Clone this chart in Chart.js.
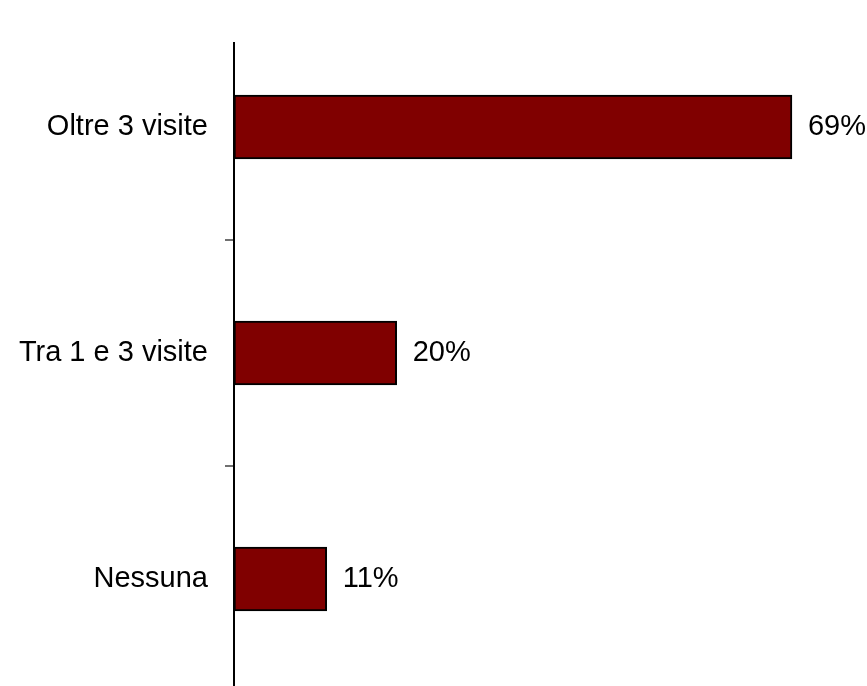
<!DOCTYPE html>
<html>
<head>
<meta charset="utf-8">
<script src="https://cdn.jsdelivr.net/npm/chart.js@4.4.0/dist/chart.umd.min.js"></script>
<style>
  html, body { margin: 0; padding: 0; background: #fff; overflow: hidden; }
  #wrap { width: 867px; height: 686px; overflow: hidden; }
</style>
</head>
<body>
<div id="wrap"><canvas id="VisiteChart" width="867" height="692"></canvas></div>
<script>
const categories = ['Oltre 3 visite', 'Tra 1 e 3 visite', 'Nessuna'];
const percentages = [68.6, 20.0, 11.4];
const valueLabels = ['69%', '20%', '11%'];

// draws the vertical axis line (it starts a bit below the top) and the value labels
const extrasPlugin = {
  id: 'extras',
  afterDatasetsDraw(chart) {
    const ctx = chart.ctx;
    const area = chart.chartArea;
    const xs = chart.scales.x;
    ctx.save();
    ctx.strokeStyle = '#000';
    ctx.lineWidth = 2;
    ctx.beginPath();
    ctx.moveTo(area.left, area.top + 28);
    ctx.lineTo(area.left, chart.height);
    ctx.stroke();

    ctx.fillStyle = '#000';
    ctx.font = '29px "Liberation Sans", Arial, sans-serif';
    ctx.textBaseline = 'middle';
    ctx.textAlign = 'left';
    const meta = chart.getDatasetMeta(0);
    meta.data.forEach((bar, i) => {
      ctx.fillText(valueLabels[i], xs.getPixelForValue(percentages[i]) + 16, bar.y);
    });
    ctx.restore();
  }
};

new Chart(document.getElementById('VisiteChart'), {
  type: 'bar',
  data: {
    labels: categories,
    datasets: [{
      data: percentages,
      backgroundColor: '#800000',
      borderColor: '#000000',
      borderWidth: 2,
      borderSkipped: false,
      barThickness: 64
    }]
  },
  options: {
    indexAxis: 'y',
    responsive: false,
    animation: false,
    layout: { padding: { top: 14, bottom: 0, right: 23, left: 0 } },
    plugins: {
      legend: { display: false },
      tooltip: { enabled: false }
    },
    scales: {
      x: {
        display: false,
        min: 0,
        max: 75
      },
      y: {
        border: { display: false },
        afterFit: (s) => {
          s.width = 234;
          s.paddingTop = 0;
          s.paddingBottom = 0;
        },
        grid: {
          offset: true,
          drawOnChartArea: false,
          tickLength: 9,
          lineWidth: 2,
          color: (c) => (c.index === 0 ? 'rgba(0,0,0,0)' : '#707070')
        },
        ticks: {
          padding: 17,
          color: '#000',
          font: { family: '"Liberation Sans", Arial, sans-serif', size: 29 }
        }
      }
    }
  },
  plugins: [extrasPlugin]
});
</script>
</body>
</html>
